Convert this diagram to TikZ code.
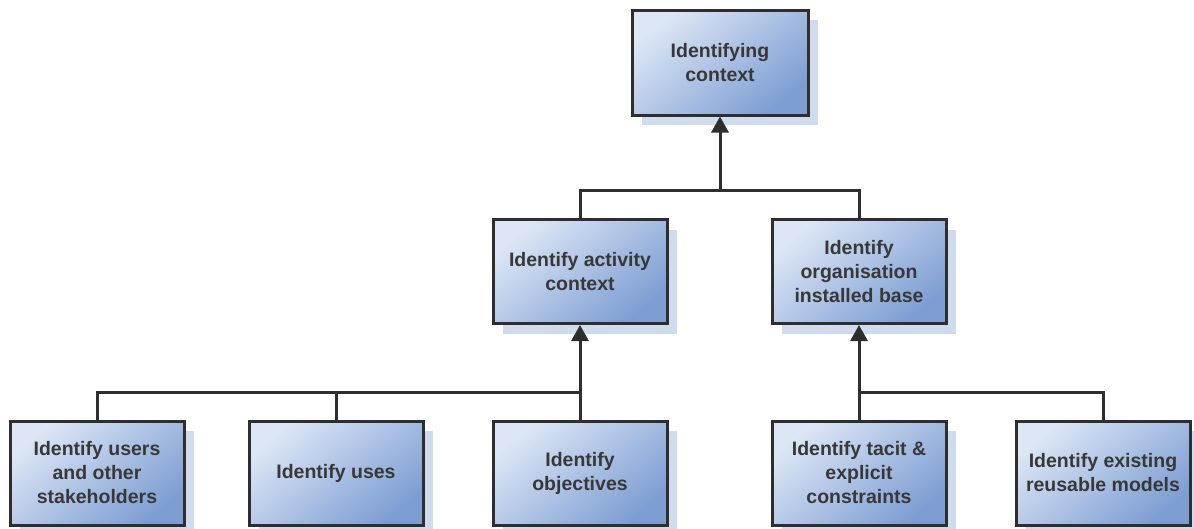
\documentclass[tikz,border=0pt]{standalone}
\usepackage{fontspec}
\setmainfont{Liberation Sans}
\usetikzlibrary{arrows.meta,shadows}
\definecolor{boxlight}{HTML}{DCE6F5}
\definecolor{boxdark}{HTML}{7E9ED3}
\definecolor{shadowc}{HTML}{D0DCEE}
\definecolor{linec}{HTML}{2E2E2E}
\definecolor{textc}{HTML}{383838}
\tikzset{
  taskbox/.style={draw=linec, line width=3pt, rectangle,
    top color=boxlight, bottom color=boxdark, shading angle=40,
    minimum width=174pt, minimum height=104pt, align=center,
    text=textc, font=\fontsize{19.5}{24}\selectfont\bfseries,
    drop shadow={shadow xshift=10pt, shadow yshift=-10pt, fill=shadowc, opacity=1}},
  conn/.style={draw=linec, line width=3pt},
  arr/.style={conn, -{Triangle[width=17pt,length=16pt]}}
}
\begin{document}
\begin{tikzpicture}[x=1pt,y=-1pt]
\useasboundingbox[fill=white] (0,0) rectangle (1194,528);
\node[taskbox, minimum width=176pt, minimum height=105pt] (top) at (720,62.5) {Identifying\\context};
\node[taskbox] (mA) at (580,271.5) {Identify activity\\context};
\node[taskbox] (mB) at (859,271.5) {Identify\\organisation\\installed base};
\node[taskbox] (b1) at (97,473) {Identify users\\and other\\stakeholders};
\node[taskbox] (b2) at (336,473) {Identify uses};
\node[taskbox] (b3) at (580,473) {Identify\\objectives};
\node[taskbox] (b4) at (859,473) {Identify tacit \&\\explicit\\constraints};
\node[taskbox] (b5) at (1103,473) {Identify existing\\reusable models};
\coordinate (j1) at (720,190);
\coordinate (j2) at (580,392);
\coordinate (j3) at (859,392);
\draw[conn] (mA.north) |- (j1) -| (mB.north);
\draw[arr] (j1) -- (top.south);
\draw[conn] (b1.north) |- (j2);
\draw[conn] (b2.north) -- (b2.north |- j2);
\draw[arr] (b3.north) -- (mA.south);
\draw[conn] (b5.north) |- (j3);
\draw[arr] (b4.north) -- (mB.south);
\end{tikzpicture}
\end{document}
